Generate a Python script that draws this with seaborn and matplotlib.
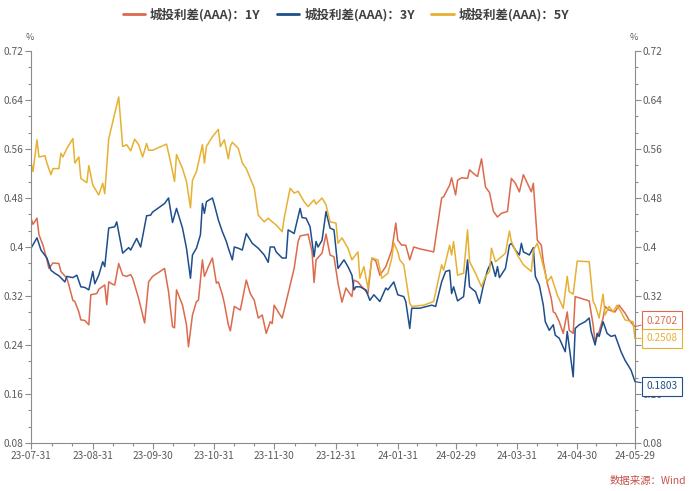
import numpy as np
import pandas as pd
import matplotlib
matplotlib.use("Agg")
import matplotlib.pyplot as plt
from matplotlib.lines import Line2D
from matplotlib.ticker import MultipleLocator
import seaborn as sns

# ---------------- data ----------------
START = "2023-07-31"
END = "2024-05-29"
series_names = ["城投利差(AAA)：1Y", "城投利差(AAA)：3Y", "城投利差(AAA)：5Y"]
series_colors = ["#DC6A4C", "#1F4E8D", "#E6B133"]

# day offsets from START and spread values (%)
days_1y = [0,1,3,4,6,8,9,11,14,15,18,19,21,22,24,25,27,29,30,33,34,37,38,39,41,42,44,46,48,50,
           51,54,57,59,61,67,69,71,72,73,76,78,79,81,83,84,86,87,89,91,93,94,96,97,99,100,102,105,108,110,
           112,114,116,118,120,121,122,124,126,127,130,132,134,135,138,139,141,142,143,146,148,150,152,154,156,158,161,162,164,166,
           169,171,173,175,178,181,183,184,186,188,190,192,195,202,204,206,207,210,211,213,214,216,219,220,222,224,226,228,230,232,
           234,236,239,241,243,245,247,249,251,252,254,256,257,259,261,262,263,265,267,269,270,272,273,277,280,282,283,285,287,288,
           290,293,295,298,300,302,303]
spread_1y = [0.447,0.437,0.447,0.420,0.403,0.379,0.365,0.374,0.373,0.360,0.349,0.338,0.313,0.311,0.294,0.281,0.280,0.273,0.322,0.324,
             0.331,0.338,0.306,0.343,0.339,0.338,0.373,0.354,0.352,0.355,0.349,0.316,0.276,0.343,0.352,0.365,0.327,0.270,0.268,0.330,
             0.305,0.273,0.237,0.289,0.311,0.313,0.379,0.352,0.368,0.382,0.341,0.343,0.322,0.308,0.273,0.263,0.303,0.297,0.346,0.324,
             0.313,0.284,0.289,0.259,0.278,0.275,0.305,0.294,0.284,0.297,0.338,0.365,0.409,0.418,0.420,0.421,0.392,0.342,0.379,0.390,
             0.421,0.387,0.384,0.341,0.310,0.333,0.319,0.346,0.343,0.335,0.324,0.382,0.377,0.354,0.368,0.395,0.439,0.411,0.403,0.403,
             0.379,0.400,0.397,0.392,0.436,0.480,0.482,0.501,0.513,0.485,0.509,0.513,0.512,0.526,0.520,0.515,0.544,0.498,0.489,0.458,
             0.449,0.455,0.458,0.512,0.504,0.490,0.518,0.504,0.490,0.504,0.411,0.403,0.376,0.341,0.316,0.294,0.292,0.278,0.259,0.294,
             0.264,0.259,0.319,0.315,0.312,0.273,0.245,0.262,0.284,0.303,0.297,0.294,0.305,0.292,0.281,0.273,0.2702]

days_3y = [0,3,5,8,10,12,14,17,18,21,23,25,27,29,31,32,34,36,37,39,42,43,46,49,50,53,55,58,60,61,
           67,69,71,73,76,78,80,81,83,85,86,87,88,91,92,94,96,98,99,101,102,104,106,108,111,114,117,119,120,122,
           123,126,128,129,132,135,136,138,140,142,143,144,146,148,150,152,154,157,159,161,162,163,165,168,170,172,175,178,179,182,
           184,187,188,190,191,195,201,203,206,208,210,211,212,214,217,219,220,223,225,227,229,231,233,234,235,238,240,241,243,245,
           246,247,250,252,253,255,257,258,260,262,263,265,268,269,272,273,275,278,280,281,283,284,285,287,289,291,293,296,298,301,303]
spread_3y = [0.398,0.415,0.395,0.382,0.362,0.357,0.353,0.343,0.352,0.350,0.354,0.335,0.334,0.330,0.360,0.340,0.354,0.376,0.368,0.431,
             0.433,0.441,0.390,0.399,0.395,0.414,0.400,0.451,0.452,0.457,0.471,0.480,0.440,0.463,0.431,0.398,0.349,0.387,0.398,0.420,
             0.471,0.455,0.474,0.480,0.469,0.444,0.425,0.409,0.398,0.379,0.400,0.398,0.395,0.422,0.406,0.398,0.387,0.375,0.400,0.400,
             0.392,0.382,0.382,0.428,0.422,0.463,0.448,0.447,0.433,0.384,0.409,0.400,0.411,0.458,0.431,0.428,0.365,0.379,0.368,0.354,
             0.330,0.335,0.335,0.330,0.313,0.322,0.311,0.333,0.330,0.343,0.322,0.319,0.311,0.267,0.300,0.300,0.305,0.303,0.343,0.360,
             0.362,0.324,0.335,0.312,0.319,0.379,0.335,0.327,0.308,0.338,0.362,0.376,0.352,0.368,0.350,0.365,0.403,0.406,0.395,0.387,
             0.406,0.392,0.387,0.399,0.352,0.338,0.305,0.278,0.264,0.273,0.256,0.251,0.229,0.262,0.188,0.267,0.273,0.278,0.284,0.262,
             0.240,0.259,0.254,0.278,0.259,0.254,0.256,0.229,0.215,0.199,0.1803]

days_5y = [0,1,3,4,7,8,10,11,14,15,16,18,21,22,24,25,28,29,31,34,36,37,39,44,46,48,50,52,54,56,
           58,59,61,68,70,72,73,76,78,80,81,83,86,87,88,91,94,95,97,99,100,101,104,106,108,112,114,117,119,121,
           123,126,127,130,132,134,137,139,142,143,146,148,150,153,154,156,159,161,164,165,167,169,171,174,176,179,181,182,184,185,
           187,190,191,197,202,206,207,210,211,212,214,217,219,220,223,226,228,230,231,233,236,238,240,241,244,247,251,252,254,256,
           259,261,264,267,269,270,272,274,280,282,283,285,287,288,290,292,294,296,298,302,303]
spread_5y = [0.539,0.523,0.575,0.547,0.549,0.537,0.518,0.528,0.528,0.553,0.547,0.561,0.577,0.537,0.547,0.512,0.505,0.533,0.501,0.485,
             0.504,0.487,0.577,0.645,0.564,0.567,0.557,0.576,0.567,0.547,0.569,0.558,0.558,0.568,0.539,0.507,0.551,0.528,0.507,0.464,
             0.509,0.523,0.567,0.537,0.564,0.580,0.592,0.564,0.575,0.544,0.564,0.571,0.561,0.537,0.528,0.496,0.452,0.441,0.447,0.441,
             0.436,0.425,0.447,0.496,0.488,0.491,0.474,0.466,0.477,0.470,0.480,0.469,0.441,0.439,0.406,0.415,0.398,0.379,0.392,0.349,
             0.368,0.333,0.382,0.379,0.349,0.357,0.382,0.407,0.392,0.379,0.371,0.308,0.303,0.305,0.311,0.371,0.362,0.403,0.387,0.409,
             0.354,0.357,0.428,0.376,0.357,0.335,0.352,0.360,0.398,0.376,0.384,0.390,0.426,0.409,0.387,0.371,0.360,0.395,0.406,0.382,
             0.343,0.352,0.322,0.300,0.352,0.327,0.323,0.377,0.376,0.311,0.305,0.284,0.323,0.289,0.303,0.294,0.305,0.294,0.281,0.278,0.2508]

ytick_values = [0.72, 0.64, 0.56, 0.48, 0.40, 0.32, 0.24, 0.16, 0.08]
ytick_labels = ["0.72", "0.64", "0.56", "0.48", "0.4", "0.32", "0.24", "0.16", "0.08"]
xtick_dates = ["2023-07-31", "2023-08-31", "2023-09-30", "2023-10-31", "2023-11-30", "2023-12-31",
               "2024-01-31", "2024-02-29", "2024-03-31", "2024-04-30", "2024-05-29"]
xtick_labels = ["23-07-31", "23-08-31", "23-09-30", "23-10-31", "23-11-30", "23-12-31",
                "24-01-31", "24-02-29", "24-03-31", "24-04-30", "24-05-29"]
source_text = "数据来源：Wind"

# ---------------- build frame ----------------
frames = []
for name, d, v in zip(series_names, [days_1y, days_3y, days_5y], [spread_1y, spread_3y, spread_5y]):
    assert len(d) == len(v), (name, len(d), len(v))
    frames.append(pd.DataFrame({
        "date": pd.Timestamp(START) + pd.to_timedelta(d, unit="D"),
        "value": v,
        "series": name,
    }))
df = pd.concat(frames, ignore_index=True)

# ---------------- plot ----------------
sns.set_theme(style="white")
plt.rcParams['font.family'] = ['Noto Sans CJK SC', 'DejaVu Sans']

W, H = 700, 491
fig = plt.figure(figsize=(W / 100, H / 100), dpi=100)
ax = fig.add_axes([31 / W, 1 - 443 / H, (635 - 31) / W, (443 - 51) / H])

palette = dict(zip(series_names, series_colors))
sns.lineplot(data=df, x="date", y="value", hue="series", palette=palette,
             linewidth=1.1, ax=ax, legend=False, estimator=None, sort=False)

ax.set_xlim(pd.Timestamp(START), pd.Timestamp(END))
ax.set_ylim(0.08, 0.72)
ax.set_xlabel("")
ax.set_ylabel("")

ax.set_yticks(ytick_values)
ax.set_yticklabels(ytick_labels)
ax.yaxis.set_minor_locator(MultipleLocator(0.08 / 3))

xt = pd.to_datetime(xtick_dates)
ax.set_xticks(xt)
ax.set_xticklabels(xtick_labels)
minor = []
for a, b in zip(xt[:-1], xt[1:]):
    minor += [a + (b - a) / 3, a + 2 * (b - a) / 3]
ax.set_xticks(minor, minor=True)

axis_gray = "#8c8c8c"
label_gray = "#5a5a5a"
for s in ["left", "right", "bottom"]:
    ax.spines[s].set_visible(True)
    ax.spines[s].set_color(axis_gray)
    ax.spines[s].set_linewidth(0.8)
ax.spines["top"].set_visible(False)

ax.tick_params(axis="both", which="major", direction="out", length=4, width=0.8,
               color=axis_gray, labelsize=7.3, labelcolor=label_gray, pad=1.5)
ax.tick_params(axis="both", which="minor", direction="out", length=2.5, width=0.8, color=axis_gray)
ax.tick_params(axis="y", which="both", left=True, right=True, labelleft=True, labelright=True)
ax.tick_params(axis="x", which="both", bottom=True, top=False)
ax.grid(False)

# % unit labels
fig.text(30 / W, 1 - 37 / H, "%", ha="center", va="center", fontsize=6.5, color=label_gray)
fig.text(634 / W, 1 - 37 / H, "%", ha="center", va="center", fontsize=6.5, color=label_gray)

# end-value labels (boxes drawn on top of the right-hand tick labels, as in the original)
end_date = pd.Timestamp(END)
offsets = [4, -3.5, 0]
for (name, c, v, dy) in zip(series_names, series_colors, [spread_1y[-1], spread_3y[-1], spread_5y[-1]], offsets):
    ax.annotate(f"{v:.4f}", xy=(end_date, v), xytext=(8, dy), textcoords="offset points",
                ha="left", va="center", fontsize=7.3, color=c,
                bbox=dict(boxstyle="square,pad=0.45", fc="white", ec=c, lw=0.8),
                arrowprops=dict(arrowstyle="-", color=c, lw=0.8, shrinkA=0, shrinkB=0),
                annotation_clip=False, zorder=10)

# legend
handles = [Line2D([0], [0], color=c, lw=2) for c in series_colors]
leg = fig.legend(handles, series_names, loc="center", bbox_to_anchor=(346 / W, 1 - 15 / H),
                 ncol=3, frameon=False, fontsize=9, handlelength=1.8, handletextpad=0.4,
                 columnspacing=1.3)
for t in leg.get_texts():
    t.set_color("#404040")
    t.set_fontweight("bold")

# source
fig.text(686 / W, 1 - 481 / H, source_text, ha="right", va="center", fontsize=7.5, color="#C8504A")

fig.savefig("out.png", dpi=100)
